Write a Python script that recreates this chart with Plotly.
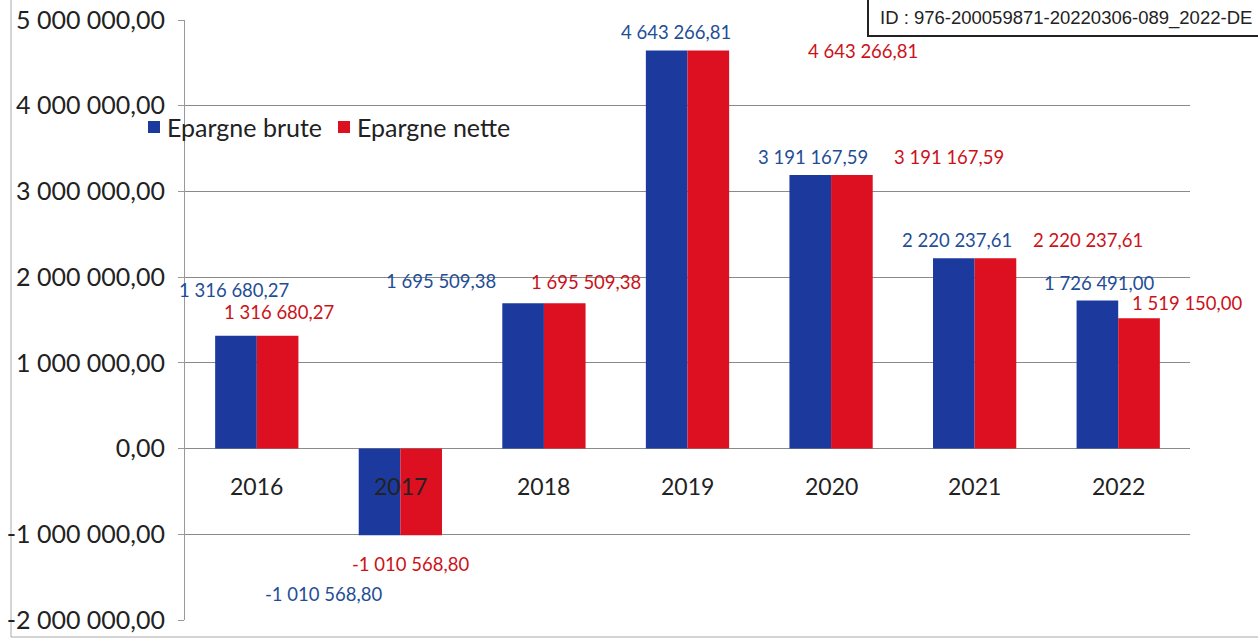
import plotly.graph_objects as go

categories = ["2016", "2017", "2018", "2019", "2020", "2021", "2022"]
epargne_brute = [1316680.27, -1010568.80, 1695509.38, 4643266.81, 3191167.59, 2220237.61, 1726491.00]
epargne_nette = [1316680.27, -1010568.80, 1695509.38, 4643266.81, 3191167.59, 2220237.61, 1519150.00]
series_names = ["Epargne brute", "Epargne nette"]
tick_values = [-2000000, -1000000, 0, 1000000, 2000000, 3000000, 4000000, 5000000]
tick_labels = ["-2 000 000,00", "-1 000 000,00", "0,00", "1 000 000,00", "2 000 000,00",
               "3 000 000,00", "4 000 000,00", "5 000 000,00"]
id_text = "ID : 976-200059871-20220306-089_2022-DE"

# label offsets in pixels (x, y) relative to (category, value)
brute_offsets = [(-23, 46), (-77, -59), (-103, 22), (-12, 19), (-18, 18), (-18, 18), (-19, 18)]
nette_offsets = [(22, 24), (10, -29), (42, 21), (175, 0), (118, 18), (113, 18), (69, 15)]


def fmt(v):
    s = f"{abs(v):,.2f}".replace(",", " ").replace(".", ",")
    return ("-" if v < 0 else "") + s


BLUE = "#1C3A9E"
RED = "#DC1020"
BLUE_TXT = "#1F4E96"
RED_TXT = "#CC1219"
FONT = "Lato, 'Open Sans', sans-serif"

# plot area geometry in reference pixels (page body margin removed below)
W, H = 1258, 642
REF_L, REF_R, REF_T, REF_B = 185, 1190, 20, 620
PW, PH = REF_R - REF_L, REF_B - REF_T
L, T = REF_L, REF_T
R, B = W - L - PW, H - T - PH


def px(xp):
    return (xp - REF_L) / PW


def py(yp):
    return (REF_B - yp) / PH


fig = go.Figure()
fig.add_trace(go.Bar(name=series_names[0], x=categories, y=epargne_brute,
                     marker=dict(color=BLUE, line=dict(width=0))))
fig.add_trace(go.Bar(name=series_names[1], x=categories, y=epargne_nette,
                     marker=dict(color=RED, line=dict(width=0))))

annotations = []
for i, c in enumerate(categories):
    annotations.append(dict(x=i, y=epargne_brute[i], xref="x", yref="y", text=fmt(epargne_brute[i]),
                            showarrow=False, xshift=brute_offsets[i][0], yshift=brute_offsets[i][1],
                            font=dict(size=18.5, color=BLUE_TXT, family=FONT)))
    annotations.append(dict(x=i, y=epargne_nette[i], xref="x", yref="y", text=fmt(epargne_nette[i]),
                            showarrow=False, xshift=nette_offsets[i][0], yshift=nette_offsets[i][1],
                            font=dict(size=18.5, color=RED_TXT, family=FONT)))
    annotations.append(dict(x=i, y=0, xref="x", yref="y", text=c, showarrow=False, yshift=-37,
                            font=dict(size=23, color="#222", family=FONT)))

# manual legend
legend_items = [(148, BLUE), (338, RED)]
shapes = [dict(type="rect", xref="paper", yref="paper", x0=px(11), x1=1.2, y0=py(637), y1=1.2,
               line=dict(color="#aaa", width=1), layer="below")]
for (lx, col), name in zip(legend_items, series_names):
    shapes.append(dict(type="rect", xref="paper", yref="paper", x0=px(lx), x1=px(lx + 12),
                       y0=py(133), y1=py(121), fillcolor=col, line=dict(width=0), layer="above"))
    annotations.append(dict(x=px(lx + 17), y=py(127), xref="paper", yref="paper", xanchor="left",
                            yanchor="middle", text=name, showarrow=False,
                            font=dict(size=25, color="#222", family=FONT)))

# ID box
shapes.append(dict(type="rect", xref="paper", yref="paper", x0=px(868), x1=px(1275), y0=py(36),
                   y1=py(-20), fillcolor="white", line=dict(color="#222", width=2), layer="above"))
annotations.append(dict(x=px(878), y=py(18), xref="paper", yref="paper", xanchor="left",
                        yanchor="middle", text=id_text, showarrow=False,
                        font=dict(size=18.5, color="#222", family="'Liberation Sans', Arial, sans-serif")))

fig.update_layout(
    barmode="group",
    bargap=0.42,
    bargroupgap=0,
    width=W, height=H,
    margin=dict(l=L, r=R, t=T, b=B, autoexpand=False),
    paper_bgcolor="white", plot_bgcolor="white",
    font=dict(family=FONT, color="#222"),
    showlegend=False,
    annotations=annotations,
    shapes=shapes,
    xaxis=dict(type="category", range=[-0.5, len(categories) - 0.5], showticklabels=False,
               showline=False, showgrid=False, zeroline=False),
    yaxis=dict(range=[-2000000, 5000000], tickvals=tick_values, ticktext=tick_labels,
               showgrid=True, gridcolor="#8a8a8a", gridwidth=1, zeroline=True,
               zerolinecolor="#8a8a8a", zerolinewidth=1, showline=True, linecolor="#999",
               linewidth=1, ticks="outside", ticklen=6, tickcolor="#999",
               ticklabelstandoff=8, ticklabeloverflow="allow",
               tickfont=dict(size=25, color="#222", family=FONT)),
)

fig.write_html("out.html", config={"displayModeBar": False},
               post_script="document.body.style.margin='0px';document.body.style.overflow='hidden';")
